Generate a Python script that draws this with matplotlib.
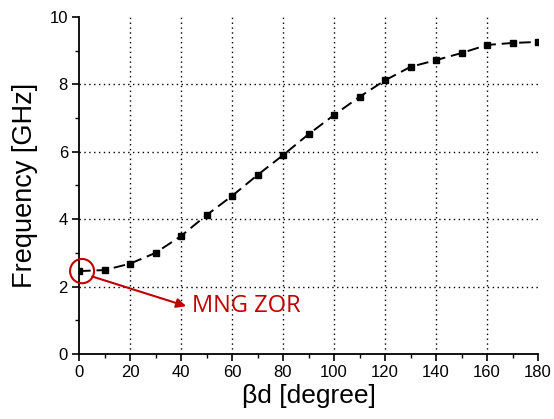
import matplotlib.pyplot as plt
from matplotlib.patches import Ellipse
from matplotlib.ticker import MultipleLocator

beta_d = [0, 10, 20, 30, 40, 50, 60, 70, 80, 90, 100, 110, 120, 130, 140, 150, 160, 170, 180]
freq_ghz = [2.46, 2.49, 2.68, 3.0, 3.5, 4.12, 4.69, 5.31, 5.9, 6.52, 7.09, 7.63, 8.12, 8.52, 8.72, 8.93, 9.17, 9.23, 9.26]

ZOR_RED = "#c00000"

fig = plt.figure(figsize=(5.54, 4.19), dpi=100)
ax = fig.add_axes([79 / 554, 65 / 419, 459 / 554, 337 / 419])

ax.plot(beta_d, freq_ghz, color="black", lw=1.4, ls=(0, (6, 3)),
        marker="s", ms=5, mfc="black", mec="black", zorder=3)

ax.set_xlim(0, 180)
ax.set_ylim(0, 10)
ax.xaxis.set_major_locator(MultipleLocator(20))
ax.xaxis.set_minor_locator(MultipleLocator(10))
ax.yaxis.set_major_locator(MultipleLocator(2))
ax.yaxis.set_minor_locator(MultipleLocator(1))

for s in ("top", "right"):
    ax.spines[s].set_visible(False)
for s in ("left", "bottom"):
    ax.spines[s].set_linewidth(1.3)
ax.tick_params(which="major", direction="out", length=5, width=1.2,
               labelsize=12, pad=3)
ax.tick_params(which="minor", direction="out", length=3, width=1.0)
for lbl in ax.get_xticklabels() + ax.get_yticklabels():
    lbl.set_fontfamily("Liberation Sans")

# dotted grid at the inner major ticks only
for xv in range(20, 180, 20):
    ax.axvline(xv, color="black", lw=1.0, ls=(0, (1, 2.5)), zorder=1)
for yv in range(2, 10, 2):
    ax.axhline(yv, color="black", lw=1.0, ls=(0, (1, 2.5)), zorder=1)

ax.set_xlabel("\u03b2d [degree]", fontsize=19, family="Liberation Sans", labelpad=3)
ax.set_ylabel("Frequency [GHz]", fontsize=19.5, family="Liberation Sans", labelpad=8)

# ZOR marker circle and label
circ = Ellipse((1.2, 2.46), width=9.4, height=0.72, fill=False,
               edgecolor=ZOR_RED, lw=1.5, clip_on=False, zorder=4)
ax.add_patch(circ)
ax.annotate("", xy=(42, 1.42), xytext=(5.2, 2.3),
            arrowprops=dict(arrowstyle="-|>", color=ZOR_RED, lw=1.5,
                            mutation_scale=14, shrinkA=0, shrinkB=0))
ax.text(44.5, 1.42, "MNG ZOR", color=ZOR_RED, fontsize=17,
        family="Open Sans", va="center", ha="left")

fig.savefig("out.png", dpi=100)
